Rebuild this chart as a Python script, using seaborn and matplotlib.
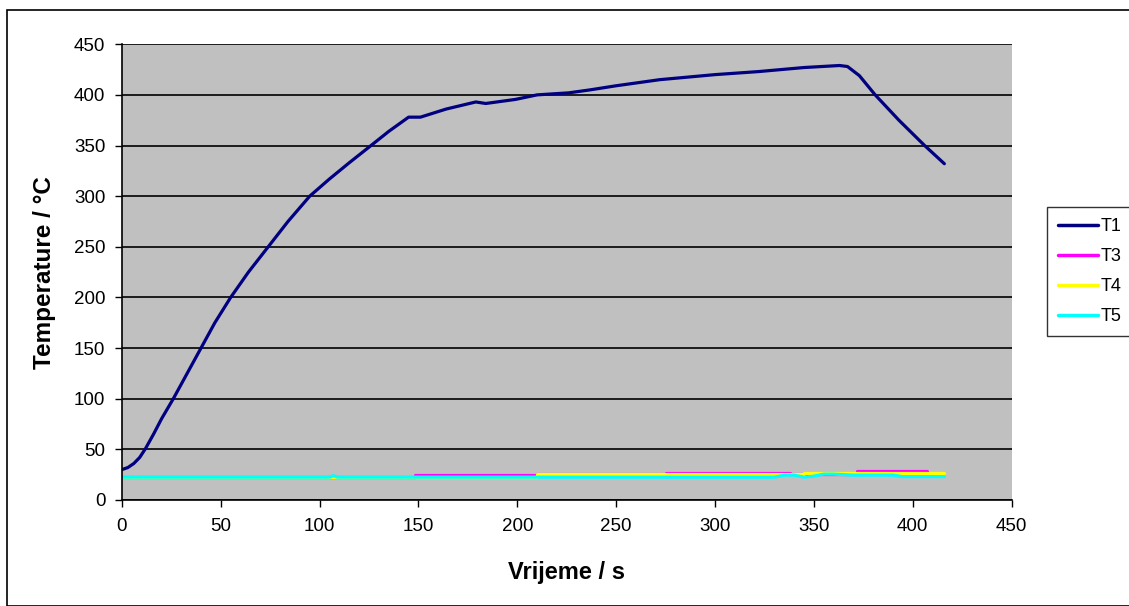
import pandas as pd
import numpy as np
import matplotlib
matplotlib.use("Agg")
import matplotlib.pyplot as plt
import seaborn as sns
from matplotlib.patches import Rectangle

# Data
t1_time = [0, 3, 6, 9, 12, 16, 20, 26, 33, 40, 47, 55, 64, 74, 84, 95, 105, 115, 126,
           135, 145, 151, 164, 179, 184, 199, 210, 226, 237, 250, 272, 300, 322, 345,
           363, 367, 373, 381, 393, 406, 416]
t1_temp = [30, 32, 36, 42, 51, 65, 80, 100, 125, 150, 175, 200, 225, 250, 275, 300, 317,
           333, 350, 364, 378, 378, 386, 393, 391.5, 395.5, 400, 402, 405, 409, 415, 420,
           423, 427, 429, 428, 419, 400, 375, 350, 332]

t3_time = [0, 148, 148, 210, 210, 275, 275, 338, 338, 372, 372, 407]
t3_temp = [22.5, 22.5, 24.5, 24.5, 25.5, 25.5, 26.5, 26.5, 26.0, 26.0, 28.5, 28.5]

t4_time = [0, 210, 210, 275, 275, 345, 345, 375, 375, 416]
t4_temp = [22.5, 22.5, 25.5, 25.5, 25.8, 25.8, 26.3, 26.3, 26.8, 26.8]

t5_time = [0, 105, 107, 109, 330, 335, 340, 345, 350, 355, 360, 365, 370, 375,
           390, 395, 416]
t5_temp = [22.5, 22.5, 24, 22.5, 22.5, 24.5, 24.5, 22.5, 23.5, 25.5, 25.5, 25, 24.5,
           24.5, 24.5, 23, 23]

series_names = ["T1", "T3", "T4", "T5"]
series_colors = ["#000080", "#FF00FF", "#FFFF00", "#00FFFF"]

frames = []
for name, xs, ys in zip(series_names, [t1_time, t3_time, t4_time, t5_time],
                        [t1_temp, t3_temp, t4_temp, t5_temp]):
    frames.append(pd.DataFrame({"time": xs, "temp": ys, "series": name}))
df = pd.concat(frames, ignore_index=True)

sns.set_style("ticks")
plt.rcParams["font.family"] = ["Liberation Sans", "DejaVu Sans"]
plt.rcParams["text.color"] = "black"
plt.rcParams["axes.labelcolor"] = "black"

fig = plt.figure(figsize=(11.29, 6.06), dpi=100)
ax = fig.add_axes([0.108, 0.175, 0.788, 0.752])
ax.set_facecolor("#C0C0C0")

sns.lineplot(data=df, x="time", y="temp", hue="series", palette=series_colors,
             hue_order=series_names, sort=False, estimator=None,
             linewidth=2.3, ax=ax, legend=False)

ax.set_xlim(0, 450)
ax.set_ylim(0, 450)
ax.set_xticks(np.arange(0, 451, 50))
ax.set_yticks(np.arange(0, 451, 50))
ax.yaxis.grid(True, color="black", linewidth=1.2)
ax.set_axisbelow(True)
ax.tick_params(axis="both", direction="out", length=5, width=1, labelsize=13.5,
               colors="black")
ax.tick_params(axis="x", pad=8)
ax.tick_params(axis="y", pad=7)
for side in ["top", "right"]:
    ax.spines[side].set_visible(False)
for side in ["left", "bottom"]:
    ax.spines[side].set_color("black")
    ax.spines[side].set_linewidth(1.2)

ax.set_xlabel("Vrijeme / s", fontsize=17, fontweight="bold")
ax.set_ylabel("Temperature / \u00b0C", fontsize=17.5, fontweight="bold")
ax.xaxis.set_label_coords(0.5, -(561 - 500) / 456)
ax.yaxis.set_label_coords((56 - 122) / 890, 0.5)

handles = [plt.Line2D([], [], color=c, linewidth=2.5) for c in series_colors]
leg = fig.legend(handles, series_names, loc="upper left",
                 bbox_to_anchor=(1047 / 1129, 1 - 207 / 606), borderaxespad=0,
                 frameon=True, fancybox=False, edgecolor="black", fontsize=13,
                 handlelength=2.2, handletextpad=0.15, labelspacing=0.72,
                 borderpad=0.6)
leg.get_frame().set_linewidth(1.0)

fig.patches.append(Rectangle((7 / 1129, 0.0), 1.2, 1 - 10 / 606,
                             transform=fig.transFigure, fill=False,
                             edgecolor="black", linewidth=1.2))

fig.savefig("out.png", dpi=100)
